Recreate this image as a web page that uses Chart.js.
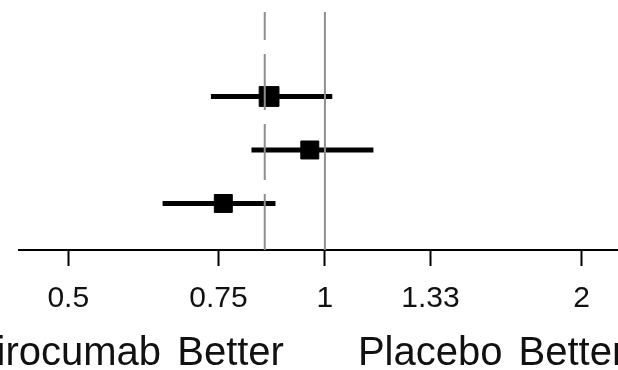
<!DOCTYPE html>
<html>
<head>
<meta charset="utf-8">
<script src="https://cdn.jsdelivr.net/npm/chart.js@4.4.1/dist/chart.umd.min.js"></script>
<style>
  html, body { margin: 0; padding: 0; background: #fff; }
  canvas { display: block; }
</style>
</head>
<body>
<canvas id="forest" width="618" height="370"></canvas>
<script>
// subgroup rows, top to bottom
const rows = [1, 2, 3];
const hr = [0.86, 0.96, 0.76];
const lower = [0.735, 0.82, 0.645];
const upper = [1.02, 1.14, 0.875];

const overallHR = 0.85;
const nullHR = 1;

const xTicks = [0.5, 0.75, 1, 1.33, 2];
const xTickLabels = ['0.5', '0.75', '1', '1.33', '2'];
const leftLabel = 'Alirocumab Better';
const rightLabel = 'Placebo Better';

const FONT = '"Liberation Sans", Arial, sans-serif';
const yMin = -0.58, yMax = 3.87;

// draw a phrase word by word so the spaces come out a bit wider
function spacedText(ctx, text, x, y, align, extra) {
    const words = text.split(' ');
    const space = ctx.measureText(' ').width + extra;
    const widths = words.map(w => ctx.measureText(w).width);
    const total = widths.reduce((a, b) => a + b, 0) + space * (words.length - 1);
    let cx = align === 'right' ? x - total : x;
    ctx.textAlign = 'left';
    words.forEach((w, i) => {
        ctx.fillText(w, cx, y);
        cx += widths[i] + space;
    });
}

// "X Better" captions under the axis, placed around HR = 1
const sideLabels = {
    id: 'sideLabels',
    afterDraw(chart) {
        const ctx = chart.ctx;
        const x1 = chart.scales.x.getPixelForValue(nullHR);
        ctx.save();
        ctx.font = '40px ' + FONT;
        ctx.fillStyle = '#111';
        ctx.textBaseline = 'alphabetic';
        spacedText(ctx, leftLabel, x1 - 41, 365, 'right', 5);
        spacedText(ctx, rightLabel, x1 + 33, 365, 'left', 5);
        ctx.restore();
    }
};

const refLine = (x, dash) => ({
    type: 'line',
    data: [{ x: x, y: yMax }, { x: x, y: yMin }],
    borderColor: '#8e8e8e',
    borderWidth: 2,
    borderDash: dash,
    pointRadius: 0,
    fill: false
});

const ciBars = rows.map((r, i) => ({
    type: 'line',
    data: [{ x: lower[i], y: r }, { x: upper[i], y: r }],
    borderColor: '#000',
    borderWidth: 5,
    borderCapStyle: 'butt',
    pointRadius: 0,
    fill: false
}));

new Chart(document.getElementById('forest'), {
    type: 'scatter',
    data: {
        datasets: [
            refLine(overallHR, [56, 14]),
            refLine(nullHR, []),
            {
                type: 'scatter',
                data: rows.map((r, i) => ({ x: hr[i], y: r })),
                pointStyle: 'rect',
                pointRadius: [14, 12.7, 12.7],
                backgroundColor: '#000',
                borderColor: '#000',
                borderWidth: 1
            },
            ...ciBars
        ]
    },
    options: {
        responsive: false,
        animation: false,
        layout: {
            autoPadding: false,
            padding: { left: 19, right: 0, top: 12, bottom: 0 }
        },
        plugins: {
            legend: { display: false },
            tooltip: { enabled: false }
        },
        scales: {
            x: {
                type: 'logarithmic',
                min: 0.4377,
                max: 2.2068,
                afterBuildTicks: (scale) => {
                    scale.ticks = xTicks.map(v => ({ value: v }));
                },
                afterFit: (scale) => {
                    scale.height = 120;
                    scale.paddingLeft = 0;
                    scale.paddingRight = 0;
                },
                grid: {
                    drawOnChartArea: false,
                    drawTicks: true,
                    tickLength: 16,
                    tickColor: '#000',
                    tickWidth: 2
                },
                border: { display: true, color: '#000', width: 2 },
                ticks: {
                    autoSkip: false,
                    maxRotation: 0,
                    padding: 15,
                    color: '#111',
                    font: { family: FONT, size: 30 },
                    callback: (val) => {
                        const i = xTicks.indexOf(val);
                        return i >= 0 ? xTickLabels[i] : '';
                    }
                }
            },
            y: {
                type: 'linear',
                display: false,
                reverse: true,
                min: yMin,
                max: yMax
            }
        }
    },
    plugins: [sideLabels]
});
</script>
</body>
</html>
